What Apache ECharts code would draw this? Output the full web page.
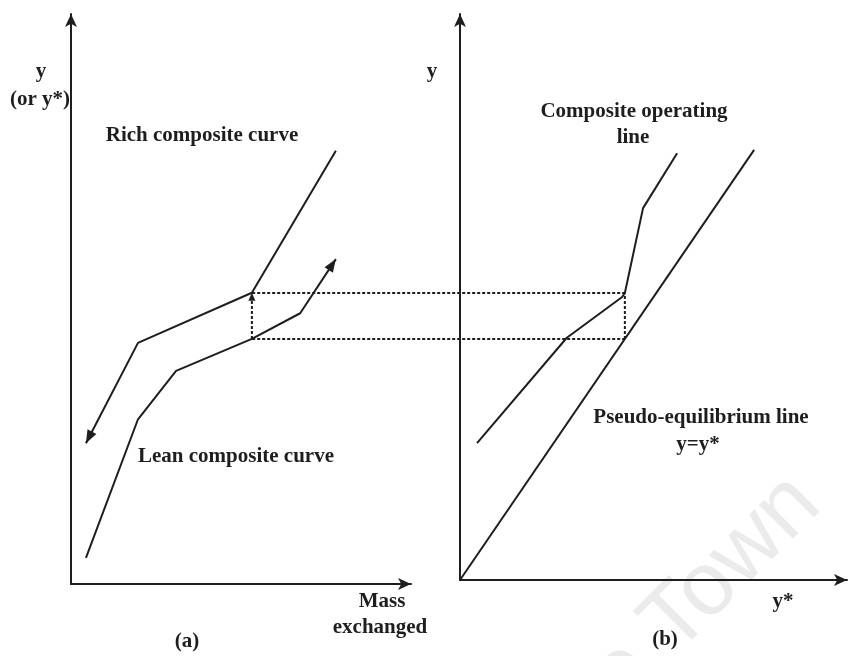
<!DOCTYPE html>
<html>
<head>
<meta charset="utf-8">
<title>Composite curves and composite operating line</title>
<script src="https://cdn.jsdelivr.net/npm/echarts@6/dist/echarts.min.js"></script>
<style>
  html, body { margin: 0; padding: 0; background: #ffffff; }
  #chart { width: 854px; height: 656px; }
</style>
</head>
<body>
<div id="chart"></div>
<script>
// ---- Panel (a): composite curves, y versus mass exchanged ----
const richX = [4.4, 19.7, 53.2, 77.9];
const richY = [24.7, 42.3, 51.1, 76.0];
const leanX = [4.4, 19.7, 30.9, 53.2, 67.4, 77.9];
const leanY = [4.6, 28.9, 37.4, 43.0, 47.5, 57.0];
// vertical transfer segment between the two curves
const transferX = [53.2, 53.2];
const transferY = [43.0, 51.1];

// ---- Panel (b): y versus y* ----
const equilX = [0, 76];
const equilY = [0, 76];
const operX = [4.4, 27.6, 41.9, 42.6, 47.3, 56.1];
const operY = [24.2, 42.8, 50.0, 50.7, 65.7, 75.4];
// dashed projection lines carried from panel (a) into panel (b)
const bridgeX = [-53.7, 42.6];
const bridgeUpperY = [50.7, 50.7];
const bridgeLowerY = [42.6, 42.6];
const pinchX = [42.6, 42.6];
const pinchY = [42.6, 50.7];

const zip = (xs, ys) => xs.map((x, i) => [x, ys[i]]);

const INK = '#1e1e1e';
const SERIF = '"Liberation Serif", "DejaVu Serif", serif';

function solid(name, xi, data) {
  return {
    name, type: 'line', xAxisIndex: xi, yAxisIndex: xi, data,
    showSymbol: false, symbol: 'none', clip: false, silent: true,
    lineStyle: { color: INK, width: 2 }
  };
}

// dotted segments; drawn as a custom series so they may run past the grid edge
function dottedSegments(xi, segs) {
  return {
    type: 'custom', xAxisIndex: xi, yAxisIndex: xi, silent: true, clip: false, z: 4,
    encode: { x: [0, 2], y: [1, 3] },
    data: segs,
    renderItem(params, api) {
      const a = api.coord([api.value(0), api.value(1)]);
      const b = api.coord([api.value(2), api.value(3)]);
      return {
        type: 'line',
        shape: { x1: a[0], y1: a[1], x2: b[0], y2: b[1] },
        style: { stroke: INK, lineWidth: 2, lineDash: [3, 2] }
      };
    }
  };
}

// arrowheads: tip point and the point the arrow comes from
const arrowsA = [
  [richX[0], richY[0], richX[1], richY[1]],
  [leanX[leanX.length - 1], leanY[leanY.length - 1], leanX[leanX.length - 2], leanY[leanY.length - 2]],
  [transferX[1], transferY[1], transferX[0], transferY[0]]
];
const arrowSizesA = [[13, 5], [13, 5], [8, 3.5]];

function arrowSeries(xi, data, sizes) {
  return {
    type: 'custom', xAxisIndex: xi, yAxisIndex: xi, silent: true, z: 5,
    encode: { x: [0, 2], y: [1, 3] },
    data,
    renderItem(params, api) {
      const tip = api.coord([api.value(0), api.value(1)]);
      const from = api.coord([api.value(2), api.value(3)]);
      const ang = Math.atan2(tip[1] - from[1], tip[0] - from[0]);
      const [len, half] = sizes[params.dataIndex];
      const dx = Math.cos(ang), dy = Math.sin(ang);
      const bx = tip[0] - len * dx, by = tip[1] - len * dy;
      return {
        type: 'polygon',
        shape: { points: [tip, [bx - half * dy, by + half * dx], [bx + half * dy, by - half * dx]] },
        style: { fill: INK }
      };
    }
  };
}

function axisCommon() {
  return {
    type: 'value', min: 0, max: 100,
    axisLine: { show: true, onZero: false, symbol: ['none', 'arrow'], symbolSize: [9, 13],
                lineStyle: { color: INK, width: 2 } },
    axisTick: { show: false }, axisLabel: { show: false }, splitLine: { show: false }
  };
}

function label(text, x, y) {
  return {
    type: 'text', x, y, z: 10, silent: true,
    style: { text, fill: INK, font: 'bold 21px ' + SERIF, align: 'center', verticalAlign: 'middle' }
  };
}

const chart = echarts.init(document.getElementById('chart'), null, { renderer: 'canvas' });
chart.setOption({
  backgroundColor: '#ffffff',
  animation: false,
  grid: [
    { left: 71, right: 443, top: 14, bottom: 72 },
    { left: 460, right: 7, top: 14, bottom: 76 }
  ],
  xAxis: [Object.assign(axisCommon(), { gridIndex: 0 }), Object.assign(axisCommon(), { gridIndex: 1 })],
  yAxis: [Object.assign(axisCommon(), { gridIndex: 0 }), Object.assign(axisCommon(), { gridIndex: 1 })],
  series: [
    solid('Rich composite curve', 0, zip(richX, richY)),
    solid('Lean composite curve', 0, zip(leanX, leanY)),
    dottedSegments(0, [[transferX[0], transferY[0], transferX[1], transferY[1]]]),
    arrowSeries(0, arrowsA, arrowSizesA),
    solid('Pseudo-equilibrium line', 1, zip(equilX, equilY)),
    solid('Composite operating line', 1, zip(operX, operY)),
    dottedSegments(1, [
      [bridgeX[0], bridgeUpperY[0], bridgeX[1], bridgeUpperY[1]],
      [bridgeX[0], bridgeLowerY[0], bridgeX[1], bridgeLowerY[1]],
      [pinchX[0], pinchY[0], pinchX[1], pinchY[1]]
    ])
  ],
  graphic: [
    {
      type: 'text', x: 838, y: 522, rotation: Math.PI / 4, z: -1, silent: true,
      style: { text: 'Cape Town', fill: '#ebebeb', font: '90px "Liberation Sans", Arial, sans-serif',
               align: 'right', verticalAlign: 'bottom' }
    },
    label('y', 41, 72),
    label('(or y*)', 40, 100),
    label('Rich composite curve', 202, 136),
    label('Lean composite curve', 236, 457),
    label('Mass', 382, 602),
    label('exchanged', 380, 628),
    label('(a)', 187, 642),
    label('y', 432, 72),
    label('Composite operating', 634, 112),
    label('line', 633, 138),
    label('Pseudo-equilibrium line', 701, 418),
    label('y=y*', 698, 445),
    label('y*', 783, 602),
    label('(b)', 665, 640)
  ]
});
</script>
</body>
</html>
